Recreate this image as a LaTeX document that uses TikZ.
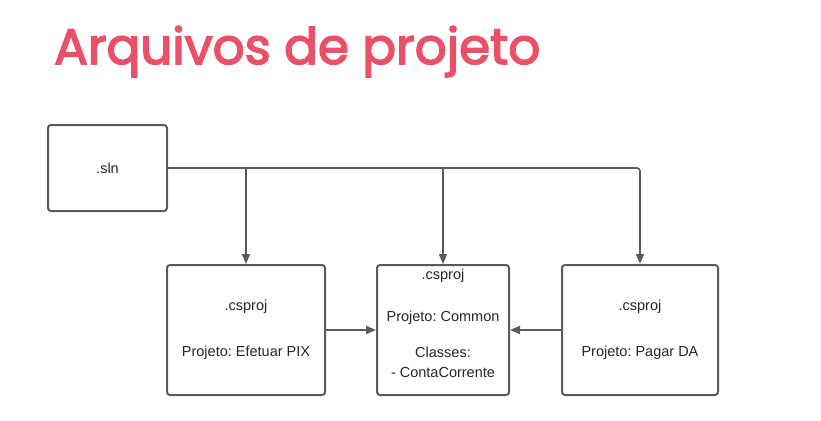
\documentclass[tikz,border=0pt]{standalone}
\usepackage{fontspec}
\setmainfont{Liberation Sans}
\newfontfamily\titlefont[FakeBold=3]{Poppins}
\usetikzlibrary{arrows.meta}
\definecolor{titlered}{HTML}{EA5067}
\definecolor{linegray}{HTML}{5A5A5A}
\tikzstyle{proj}=[draw=linegray, line width=2pt, rounded corners=3pt, fill=white, align=center, font=\fontsize{14.5}{20}\selectfont\frenchspacing, text=black!85]
\tikzstyle{arrow}=[draw=linegray, line width=1.6pt, -{Triangle[length=10pt,width=8pt]}]
\newcommand{\proj}{\node[proj]}

\begin{document}
\begin{tikzpicture}[x=1pt,y=-1pt]
\useasboundingbox (0,0) rectangle (821,420);
\node[anchor=base west, inner sep=0pt, text=titlered, font=\titlefont\fontsize{50}{55}\selectfont] (title) at (54,64) {Arquivos de projeto};
\proj[minimum width=119pt, minimum height=86pt] (sln) at (107.5,168) {.sln};
\proj[minimum width=158pt, minimum height=130pt] (pix) at (246,330) {.csproj\\[26pt] Projeto: Efetuar PIX};
\proj[minimum width=132pt, minimum height=130pt] (common) at (443,330) {.csproj\\[22pt] Projeto: Common\\[16pt] Classes:\\ - ContaCorrente\\[-6pt]};
\proj[minimum width=156pt, minimum height=130pt] (da) at (640,330) {.csproj\\[26pt] Projeto: Pagar DA};
\draw[arrow, rounded corners=3pt] (sln.east) -| (da.north);
\draw[arrow] (sln.east -| pix.north) -- (pix.north);
\draw[arrow] (sln.east -| common.north) -- (common.north);
\draw[arrow] (pix.east) -- (common.west);
\draw[arrow] (da.west) -- (common.east);
\end{tikzpicture}
\end{document}
